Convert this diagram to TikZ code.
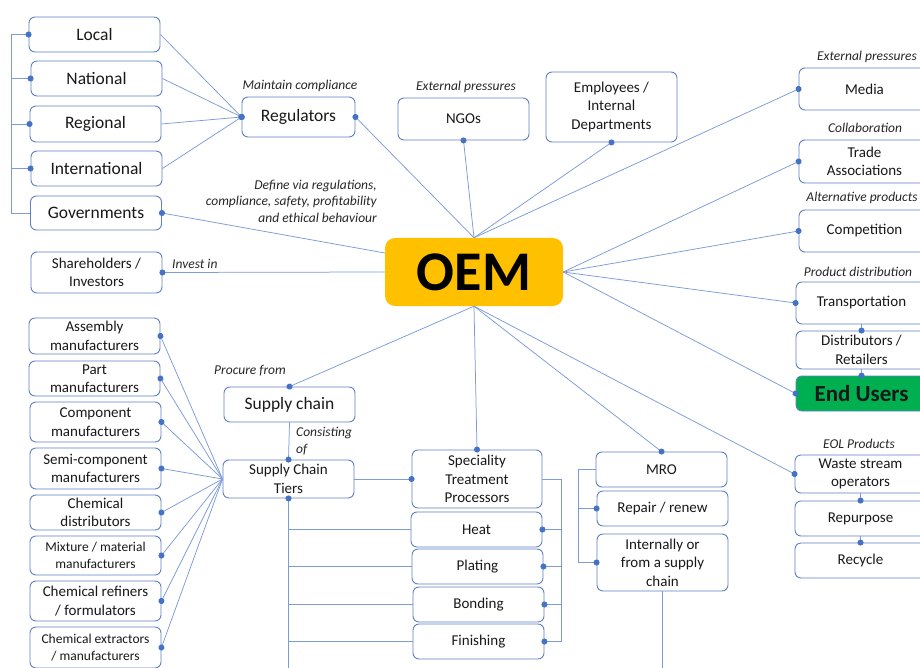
\documentclass[tikz,border=0pt]{standalone}
\usepackage{fontspec}
\setmainfont{Carlito}
\usetikzlibrary{positioning,arrows.meta}

\definecolor{boxline}{RGB}{95,128,196}
\definecolor{linkline}{RGB}{125,155,215}
\definecolor{dotblue}{RGB}{68,114,196}
\definecolor{oemyellow}{RGB}{255,192,0}
\definecolor{endgreen}{RGB}{0,176,80}

\begin{document}
\begin{tikzpicture}[x=1pt,y=-1pt]
            \tikzset{
                box/.style={draw=boxline, line width=0.9pt, rounded corners=6pt, fill=white, minimum width=131pt,
                    minimum height=35pt, align=center, inner sep=1pt, text=black!90, font=\fontsize{15}{18.5}\selectfont},
                bigbox/.style={box, font=\fontsize{17.5}{21}\selectfont},
                smallbox/.style={box, font=\fontsize{13.5}{17}\selectfont},
                note/.style={font=\fontsize{13.5}{16.5}\selectfont\itshape, inner sep=0pt, text=black!85},
                link/.style={draw=linkline, line width=0.75pt},
                dotend/.style={-{Circle[length=6pt,width=6pt,color=dotblue]}, shorten >=-3pt},
                dotstart/.style={{Circle[length=6pt,width=6pt,color=dotblue]}-, shorten <=-3pt}
            }
            \useasboundingbox (0,0) rectangle (920,668);
            \clip (0,0) rectangle (920,668);
            \coordinate (bottom) at (0,668);

            % centre
            \node[fill=oemyellow, rounded corners=10pt, minimum width=178pt, minimum height=68pt,
                font=\fontsize{56}{60}\selectfont\bfseries] (oem) at (474,272) {OEM};

            % governance
            \node[bigbox] (local) at (94.5,34.5) {Local};
            \node[bigbox] (national) at (96.5,78.5) {National};
            \node[bigbox, minimum height=36pt] (regional) at (95.5,124) {Regional};
            \node[bigbox] (international) at (96.5,168.5) {International};
            \node[bigbox, minimum height=34pt] (gov) at (96,213) {Governments};
            \node[box, minimum height=41pt] (share) at (96.5,272.5) {Shareholders /\\ Investors};
            \node[bigbox, minimum width=113pt, minimum height=40pt] (reg) at (298.5,117) {Regulators};
            \node[box, minimum height=42pt] (ngo) at (463.5,119) {NGOs};
            \node[box, minimum height=70pt] (emp) at (611.5,107) {Employees /\\ Internal\\ Departments};

            % right side
            \node[box, minimum height=42pt] (media) at (864.5,89) {Media};
            \node[box, minimum height=43pt] (trade) at (864.5,161.5) {Trade\\ Associations};
            \node[box, minimum height=42pt] (compet) at (864.5,231) {Competition};
            \node[box, minimum height=42pt] (transport) at (861.5,303) {Transportation};
            \node[box, minimum height=38pt] (distrib) at (861.5,350) {Distributors /\\ Retailers};
            \node[box, fill=endgreen, font=\fontsize{23}{26}\selectfont\bfseries] (endusers) at (861.5,393.5) {End Users};
            \node[box, minimum height=38pt] (waste) at (860.5,474) {Waste stream\\ operators};
            \node[box] (repurpose) at (860.5,518.5) {Repurpose};
            \node[box] (recycle) at (860.5,560.5) {Recycle};

            % supply chain
            \node[bigbox] (supply) at (289.5,404.5) {Supply chain};
            \node[box, minimum height=38pt] (tiers) at (288.5,479) {Supply Chain\\ Tiers};
            \node[box, minimum height=36pt] (assembly) at (94.5,336) {Assembly\\ manufacturers};
            \node[box] (part) at (94.5,378.5) {Part\\ manufacturers};
            \node[box, minimum height=40pt] (component) at (95.5,422) {Component\\ manufacturers};
            \node[box, minimum height=41pt] (semi) at (95.5,468.5) {Semi-component\\ manufacturers};
            \node[box] (chemdist) at (95.5,512.5) {Chemical\\ distributors};
            \node[smallbox, minimum height=39pt] (mixture) at (95.5,555.5) {Mixture / material\\ manufacturers};
            \node[box, minimum height=40pt] (refiners) at (95.5,601) {Chemical refiners\\ / formulators};
            \node[smallbox, minimum height=41pt] (extractors) at (95.5,647.5) {Chemical extractors\\ / manufacturers};

            % treatments and MRO
            \node[box, minimum width=130pt, minimum height=58pt] (spec) at (477,479) {Speciality\\ Treatment\\ Processors};
            \node[box] (heat) at (476.5,529.5) {Heat};
            \node[box] (plating) at (477.5,566.5) {Plating};
            \node[box] (bonding) at (478.5,604.5) {Bonding};
            \node[box] (finishing) at (478.5,641.5) {Finishing};
            \node[box] (mro) at (661.5,469.5) {MRO};
            \node[box] (repair) at (662.5,508.5) {Repair / renew};
            \node[box, minimum height=57pt] (internal) at (662.5,562.5) {Internally or\\ from a supply\\ chain};

            % labels
            \node[note] (lcompl) at (300,86) {Maintain compliance};
            \node[note] (lngo) at (466,87) {External pressures};
            \node[note, anchor=east, align=right] (ldefine) at (377,201)
                {Define via regulations,\\ compliance, safety, profitability\\ and ethical behaviour};
            \node[note, anchor=west] (linvest) at (172,264) {Invest in};
            \node[note] (lmedia) at (867,57) {External pressures};
            \node[note] (lcollab) at (865,128) {Collaboration};
            \node[note] (lalt) at (862,198) {Alternative products};
            \node[note] (ldistr) at (858,272) {Product distribution};
            \node[note] (leol) at (859,444) {EOL Products};
            \node[note] (lprocure) at (250,371) {Procure from};
            \node[note, anchor=west, align=left] (lconsist) at (296,441) {Consisting\\ of};

            % connectors
            \coordinate (lbar) at (11,213);
            \draw[link, dotend] (gov.west) -- (lbar) |- (local.west);
            \foreach \n in {national,regional,international}
                \draw[link, dotend] (lbar |- \n.west) -- (\n.west);
            \foreach \n in {local,national,regional,international}
                \draw[link, dotend] (\n.east) -- (reg.west);
            \foreach \n in {reg.east,ngo.south,emp.south}
                \draw[link, dotstart] (\n) -- (oem.north);
            \draw[link, dotend] (oem.north) -- (media.west);
            \foreach \n in {trade,compet,transport,endusers}
                \draw[link, dotend] (oem.east) -- (\n.west);
            \draw[link, dotstart] (gov.east) -- ([yshift=19pt]oem.west);
            \draw[link, dotstart] (share.east) -- (oem.west);
            \foreach \n in {supply.north,spec.north,mro.north,waste.west}
                \draw[link, dotend] (oem.south) -- (\n);

            \draw[link, dotend] (transport.south) -- (distrib.north);
            \draw[link, dotend] (distrib.south) -- (endusers.north);
            \draw[link, dotend] (waste.south) -- (repurpose.north);
            \draw[link, dotend] (repurpose.south) -- (recycle.north);

            \draw[link, dotend] (supply.south) -- (tiers.north);
            \foreach \n in {assembly,part,component,semi,chemdist,mixture,refiners,extractors}
                \draw[link, dotend] (tiers.west) -- (\n.east);
            \draw[link, dotend] (tiers.east) -- (spec.west);
            \draw[link, dotstart] (tiers.south) -- (tiers.south |- bottom);
            \foreach \n in {heat,plating,bonding,finishing}
                \draw[link] (tiers.south |- \n.west) -- (\n.west);

            \coordinate (sbar) at (561,0);
            \draw[link, dotend] (spec.east) -- (sbar |- spec.east) |- (finishing.east);
            \foreach \n in {heat,plating,bonding}
                \draw[link, dotend] (sbar |- \n.east) -- (\n.east);

            \coordinate (mbar) at (578,0);
            \draw[link, dotend] (mro.west) -- (mbar |- mro.west) |- (internal.west);
            \draw[link, dotend] (mbar |- repair.west) -- (repair.west);
            \draw[link] (internal.south) -- (internal.south |- bottom);
        \end{tikzpicture}
\end{document}
